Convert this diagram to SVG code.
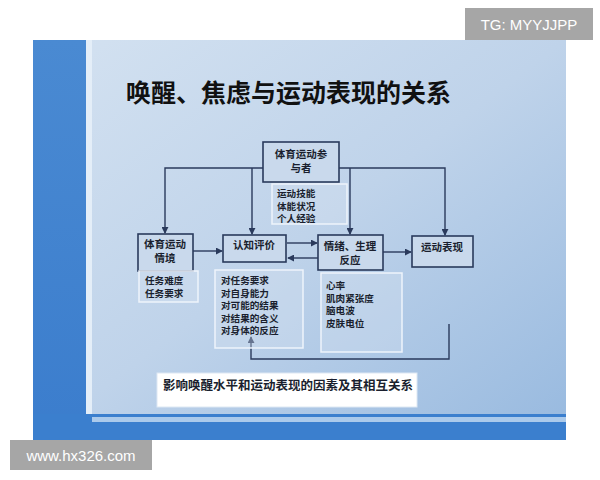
<svg xmlns="http://www.w3.org/2000/svg" width="600" height="480" viewBox="0 0 600 480">
<defs>
<linearGradient id="bg" x1="0" y1="0" x2="1" y2="1">
<stop offset="0" stop-color="#d4e2f1"/>
<stop offset="0.5" stop-color="#bfd3ea"/>
<stop offset="1" stop-color="#97b9df"/>
</linearGradient>
<linearGradient id="band" x1="0" y1="0" x2="0" y2="1">
<stop offset="0" stop-color="#4a8ad2"/>
<stop offset="1" stop-color="#3b7dcd"/>
</linearGradient>
<marker id="arr" viewBox="0 0 8 8" refX="7" refY="4" markerWidth="5" markerHeight="5" orient="auto">
<path d="M0,0 L8,4 L0,8 z" fill="#2a3a5c"/>
</marker>
<style>
.node{fill:#c9d9ec;stroke:#2a3a5c;stroke-width:1.6}
.sub{fill:#d6e3f1;fill-opacity:0.35;stroke:#eef4fb;stroke-width:1.5}
.t{font-family:"Noto Sans CJK SC","Noto Sans",sans-serif;font-weight:bold;font-size:10.5px;fill:#1a1f2e}
.s{font-size:9.6px}
.c{text-anchor:middle}
.ln{fill:none;stroke:#2a3a5c;stroke-width:1.4}
.wm{font-family:"Liberation Sans",Arial,sans-serif;font-size:15px;fill:#ffffff}
</style>
</defs>
<rect width="600" height="480" fill="#ffffff"/>
<rect x="33" y="40" width="533" height="400" fill="url(#bg)"/>
<rect x="33" y="40" width="53" height="400" fill="url(#band)"/>
<rect x="86" y="40" width="6" height="400" fill="#e4eef8"/>
<rect x="33" y="414" width="533" height="26" fill="#3b7fce"/>
<rect x="92" y="417" width="474" height="5" fill="#c8ddf3" opacity="0.8"/>
<text x="126" y="102" style="font-family:'Noto Sans CJK SC',sans-serif;font-weight:bold;font-size:25px;fill:#111">唤醒、焦虑与运动表现的关系</text>

<g id="connectors">
<path class="ln" d="M263,168 H165 V233" marker-end="url(#arr)"/>
<path class="ln" d="M252,168 V234" marker-end="url(#arr)"/>
<path class="ln" d="M339,168 H445 V235" marker-end="url(#arr)"/>
<path class="ln" d="M350,168 V234" marker-end="url(#arr)"/>
<path class="ln" d="M193,251 H222" marker-end="url(#arr)"/>
<path class="ln" d="M287,243 H317" marker-end="url(#arr)"/>
<path class="ln" d="M318,258 H288" marker-end="url(#arr)"/>
<path class="ln" d="M383,252 H411" marker-end="url(#arr)"/>
<path class="ln" d="M449,324 V359 H251 V337" marker-end="url(#arr)"/>
</g>

<g id="participant">
<rect class="node" x="263" y="142" width="76" height="40"/>
<text class="t c"><tspan x="301" y="158">体育运动参</tspan><tspan x="301" y="172">与者</tspan></text>
</g>
<g id="participant-factors">
<rect class="sub" x="272" y="184" width="75" height="40"/>
<text class="t s"><tspan x="277" y="197">运动技能</tspan><tspan x="277" y="209.5">体能状况</tspan><tspan x="277" y="222">个人经验</tspan></text>
</g>
<g id="situation">
<rect class="node" x="138" y="234" width="55" height="37"/>
<text class="t c"><tspan x="165" y="248">体育运动</tspan><tspan x="165" y="262">情境</tspan></text>
</g>
<g id="situation-factors">
<rect class="sub" x="139" y="271" width="59" height="31"/>
<text class="t s"><tspan x="145" y="284">任务难度</tspan><tspan x="145" y="297">任务要求</tspan></text>
</g>
<g id="appraisal">
<rect class="node" x="223" y="235" width="63" height="27"/>
<text class="t c" x="254" y="249">认知评价</text>
</g>
<g id="appraisal-factors">
<rect class="sub" x="215" y="270" width="88" height="78"/>
<text class="t s"><tspan x="221" y="284">对任务要求</tspan><tspan x="221" y="296.5">对自身能力</tspan><tspan x="221" y="309">对可能的结果</tspan><tspan x="221" y="321.5">对结果的含义</tspan><tspan x="221" y="334">对身体的反应</tspan></text>
</g>
<g id="emotion">
<rect class="node" x="318" y="235" width="65" height="35"/>
<text class="t c"><tspan x="350" y="250">情绪、生理</tspan><tspan x="350" y="264">反应</tspan></text>
</g>
<g id="emotion-factors">
<rect class="sub" x="321" y="273" width="81" height="79"/>
<text class="t s"><tspan x="326" y="289">心率</tspan><tspan x="326" y="301.5">肌肉紧张度</tspan><tspan x="326" y="314">脑电波</tspan><tspan x="326" y="326.5">皮肤电位</tspan></text>
</g>
<g id="performance">
<rect class="node" x="412" y="236" width="61" height="31"/>
<text class="t c" x="442" y="251">运动表现</text>
</g>
<g id="caption">
<rect x="157" y="373" width="260" height="34" fill="#ffffff" stroke="#dde8f3" stroke-width="1"/>
<text class="t" x="163" y="390" style="font-size:12.5px">影响唤醒水平和运动表现的因素及其相互关系</text>
</g>

<rect x="465" y="8" width="128" height="32" fill="#a6a6a6"/>
<text class="wm" x="529" y="30" text-anchor="middle">TG: MYYJJPP</text>
<rect x="10" y="440" width="142" height="30" fill="#a6a6a6"/>
<text class="wm" x="81" y="461" text-anchor="middle">www.hx326.com</text>
</svg>
